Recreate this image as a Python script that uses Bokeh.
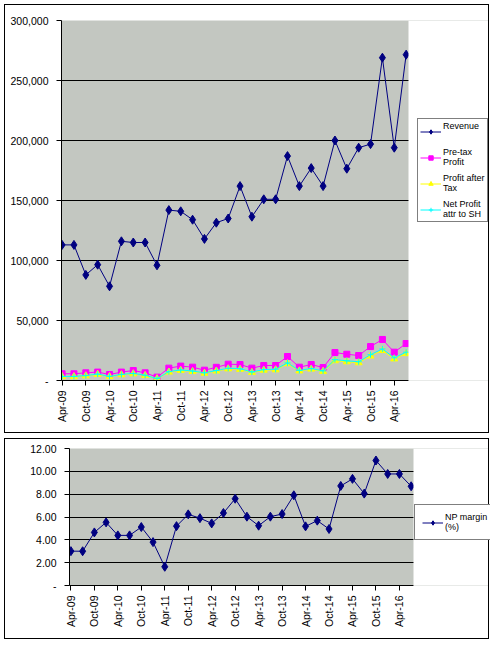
import math
from bokeh.plotting import figure
from bokeh.models import Range1d, FixedTicker, Legend, LegendItem, BoxAnnotation
from bokeh.layouts import column
from bokeh.embed import file_html
from bokeh.resources import INLINE

quarters = ["Apr-09", "Jul-09", "Oct-09", "Jan-10", "Apr-10", "Jul-10", "Oct-10", "Jan-11",
            "Apr-11", "Jul-11", "Oct-11", "Jan-12", "Apr-12", "Jul-12", "Oct-12", "Jan-13",
            "Apr-13", "Jul-13", "Oct-13", "Jan-14", "Apr-14", "Jul-14", "Oct-14", "Jan-15",
            "Apr-15", "Jul-15", "Oct-15", "Jan-16", "Apr-16", "Jul-16"]

revenue = [113000, 113000, 88000, 96500, 78500, 116000, 115000, 115000, 96000, 142000,
           141000, 134000, 118000, 131500, 135000, 162000, 136500, 151000, 151000, 187000,
           162000, 177000, 162000, 200000, 176500, 194000, 197000, 269000, 194000, 271500]
pretax_profit = [5600, 5600, 6400, 7000, 5000, 7000, 8300, 6400, 2800, 10300,
                 12000, 11100, 8600, 11000, 13600, 13300, 10300, 12500, 12500, 20000,
                 11100, 13300, 10800, 23300, 21900, 20800, 28300, 34200, 23600, 30800]
profit_after_tax = [3200, 3200, 3900, 5100, 3200, 4800, 5600, 4200, 1400, 7000,
                    8400, 7500, 6100, 7900, 9700, 9300, 6700, 8600, 8900, 14000,
                    8000, 9500, 7600, 16500, 15600, 14800, 20400, 25000, 18000, 22400]
net_profit_sh = [3400, 3400, 4100, 5400, 3400, 5100, 5900, 4400, 1600, 7400,
                 8800, 7900, 6400, 8300, 10200, 9800, 7100, 9100, 9400, 14700,
                 8400, 10000, 8000, 17400, 16400, 15600, 21500, 26300, 18900, 23600]
np_margin = [3.01, 3.00, 4.65, 5.53, 4.39, 4.39, 5.12, 3.80, 1.64, 5.20,
             6.23, 5.90, 5.44, 6.35, 7.60, 6.03, 5.24, 6.03, 6.26, 7.90,
             5.18, 5.68, 4.95, 8.72, 9.34, 8.05, 10.95, 9.77, 9.77, 8.69]

y1_ticks = [0, 50000, 100000, 150000, 200000, 250000, 300000]
y1_labels = ["-", "50,000", "100,000", "150,000", "200,000", "250,000", "300,000"]
y2_ticks = [0, 2, 4, 6, 8, 10, 12]
y2_labels = ["-", "2.00", "4.00", "6.00", "8.00", "10.00", "12.00"]

FONT = "Liberation Sans"
BG = "#C3C7C1"
xs = list(range(len(quarters)))
xtick_idx = list(range(0, len(quarters), 2))


def style(p, yticks, ylabels, x_lo, x_hi):
    p.background_fill_color = BG
    p.border_fill_color = "white"
    p.outline_line_color = None
    p.xgrid.visible = False
    p.ygrid.ticker = FixedTicker(ticks=yticks[1:-1])
    p.ygrid.grid_line_color = "black"
    p.ygrid.grid_line_width = 1
    for ax in (p.xaxis[0], p.yaxis[0]):
        ax.axis_line_color = "black"
        ax.axis_line_width = 1
        ax.major_tick_line_color = "black"
        ax.major_tick_out = 5
        ax.major_tick_in = 0
        ax.minor_tick_out = 0
        ax.minor_tick_in = 0
        ax.major_label_text_font = FONT
        ax.major_label_text_font_size = "10.5px"
        ax.major_label_text_color = "black"
    p.yaxis.ticker = FixedTicker(ticks=yticks)
    p.yaxis.major_label_overrides = {t: l for t, l in zip(yticks, ylabels)}
    p.yaxis.major_label_standoff = 8
    p.xaxis.ticker = FixedTicker(ticks=xtick_idx)
    p.xaxis.major_label_overrides = {i: quarters[i] for i in xtick_idx}
    p.xaxis.major_label_orientation = math.pi / 2
    p.xaxis.major_label_standoff = 5
    p.xaxis.bounds = (x_lo, x_hi)


def cover(p, x_hi):
    # white chart-area zone to the right of the plot area (holds the legend)
    p.add_layout(BoxAnnotation(left=x_hi, fill_color="white", fill_alpha=1.0, line_color=None))


LEG = dict(glyph_width=21, glyph_height=11, label_standoff=2, label_text_font=FONT,
           label_text_font_size="9px", label_text_color="black",
           border_line_color="black", border_line_width=1,
           background_fill_color="white", background_fill_alpha=1.0, margin=0)

# ---------- top chart ----------
W = 485
X1_LO, X1_HI = -0.05, 29.2
L1 = 56
PLOT1_W = 347
FRAME1_W = W - L1
x1_end = X1_LO + (X1_HI - X1_LO) * FRAME1_W / PLOT1_W

p1 = figure(width=W, height=429, output_backend="svg", toolbar_location=None,
            x_range=Range1d(X1_LO, x1_end), y_range=Range1d(0, 300000),
            min_border_left=L1, min_border_right=0, min_border_top=15, min_border_bottom=54,
            frame_align=False, styles={"border": "1px solid black"})
style(p1, y1_ticks, y1_labels, X1_LO, X1_HI)

r_rev_l = p1.line(xs, revenue, line_color="#000080", line_width=1)
r_rev_m = p1.scatter(xs, revenue, marker="diamond", size=9, fill_color="#000080", line_color="#000080")
r_pt_l = p1.line(xs, pretax_profit, line_color="#FF00FF", line_width=1)
r_pt_m = p1.scatter(xs, pretax_profit, marker="square", size=6, fill_color="#FF00FF", line_color="#FF00FF")
r_pat_l = p1.line(xs, profit_after_tax, line_color="#FFFF00", line_width=1)
r_pat_m = p1.scatter(xs, profit_after_tax, marker="triangle", size=7, fill_color="#FFFF00", line_color="#FFFF00")
r_np_l = p1.line(xs, net_profit_sh, line_color="#00FFFF", line_width=1)
r_np_m = p1.scatter(xs, net_profit_sh, marker="cross", size=6, line_color="#00FFFF", line_width=1)

cover(p1, X1_HI)
leg1 = Legend(items=[
    LegendItem(label="Revenue\n ", renderers=[r_rev_l, r_rev_m]),
    LegendItem(label="Pre-tax\nProfit", renderers=[r_pt_l, r_pt_m]),
    LegendItem(label="Profit after\nTax", renderers=[r_pat_l, r_pat_m]),
    LegendItem(label="Net Profit\nattr to SH", renderers=[r_np_l, r_np_m]),
], location=(356, 158), padding=2, spacing=6, **LEG)
p1.add_layout(leg1, "center")

# ---------- bottom chart ----------
X2_LO, X2_HI = -0.12, 29.2
L2 = 64
PLOT2_W = 344
FRAME2_W = W - L2
x2_end = X2_LO + (X2_HI - X2_LO) * FRAME2_W / PLOT2_W

p2 = figure(width=W, height=201, output_backend="svg", toolbar_location=None,
            x_range=Range1d(X2_LO, x2_end), y_range=Range1d(0, 12),
            min_border_left=L2, min_border_right=0, min_border_top=9, min_border_bottom=55,
            frame_align=False, styles={"border": "1px solid black"})
style(p2, y2_ticks, y2_labels, X2_LO, X2_HI)

r_m_l = p2.line(xs, np_margin, line_color="#000080", line_width=1)
r_m_m = p2.scatter(xs, np_margin, marker="diamond", size=9, fill_color="#000080", line_color="#000080")

cover(p2, X2_HI)
leg2 = Legend(items=[LegendItem(label="NP margin\n(%)", renderers=[r_m_l, r_m_m])],
              location=(345, 45), padding=7, spacing=0, **LEG)
p2.add_layout(leg2, "center")

layout = column(p1, p2, spacing=5,
                styles={"position": "absolute", "left": "4px", "top": "4px"})
open("out.html", "w").write(file_html(layout, INLINE))
